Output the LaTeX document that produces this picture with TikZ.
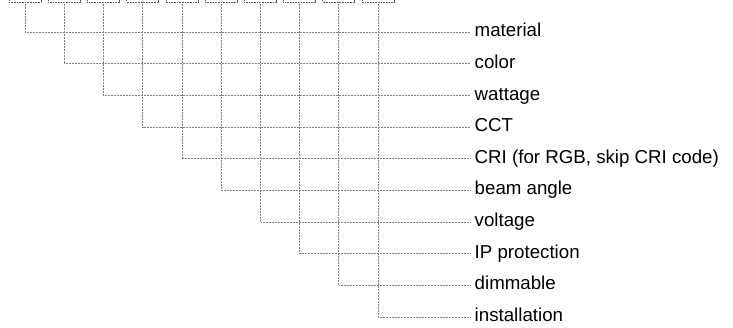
\documentclass[tikz,border=0pt]{standalone}
\usepackage{fontspec}
\setmainfont{Liberation Sans}
\usetikzlibrary{positioning}

\begin{document}
\begin{tikzpicture}[
    x=1pt, y=-1pt,
    codebox/.style={rectangle, draw=black!65, densely dotted, line width=0.6pt, minimum width=32pt, minimum height=20pt, inner sep=0pt},
    field/.style={anchor=west, inner xsep=4.5pt, inner ysep=0pt, text height=13.4pt, text depth=3.9pt, font=\fontsize{18.7}{20}\selectfont},
    leader/.style={draw=black!50, densely dotted, line width=0.5pt}
]
\useasboundingbox (0,0) rectangle (733,328);

% =============================================================
% Code boxes (cut by the top edge) and their field labels
% =============================================================
\foreach \i/\name in {0/material, 1/color, 2/wattage, 3/CCT, 4/{CRI (for RGB, skip CRI code)}, 5/beam angle, 6/voltage, 7/IP protection, 8/dimmable, 9/installation} {
    \node[codebox] (box\i) at (25+39.2*\i, -8) {};
    \node[field] (lab\i) at (470, 32+31.65*\i) {\name};
    \draw[leader] (box\i.south) |- (lab\i.west);
}

\end{tikzpicture}
\end{document}
